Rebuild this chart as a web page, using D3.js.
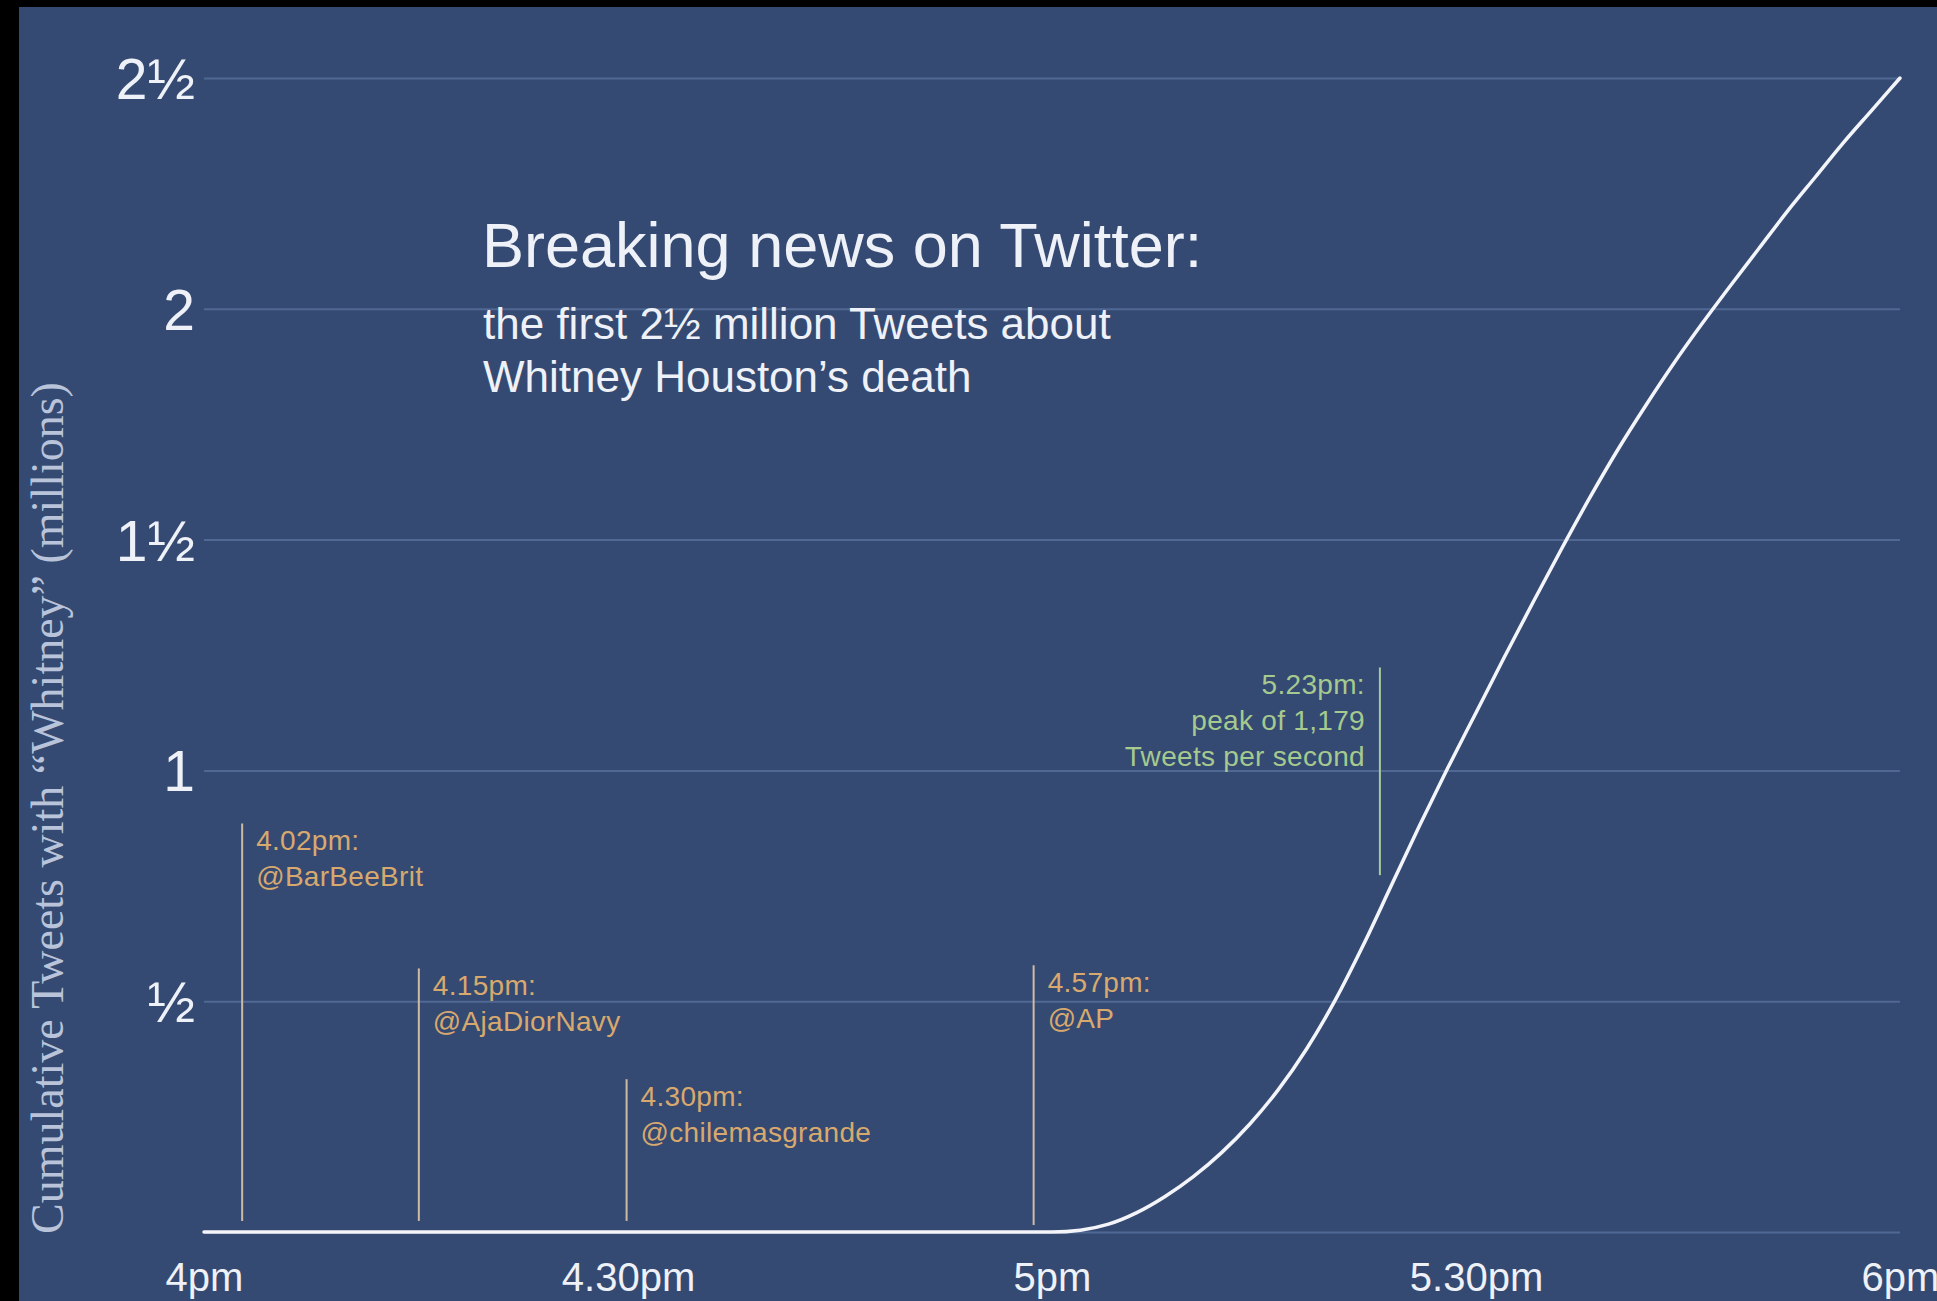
<!DOCTYPE html>
<html>
<head>
<meta charset="utf-8">
<script src="https://cdn.jsdelivr.net/npm/d3@7"></script>
<style>
  html, body { margin: 0; padding: 0; background: #000; }
  svg { display: block; }
</style>
</head>
<body>
<div id="chart"></div>
<script>
// data ---------------------------------------------------------------------------------
// minutes after 4pm and cumulative tweets (millions)
const minutes = [0, 60, 62, 64, 66, 68, 70, 72, 74, 76, 78, 80, 82, 84, 86, 88, 90, 92, 94, 96, 98, 100,
    102, 104, 106, 108, 110, 112, 114, 116, 118, 120];
const tweets = [0, 0, 0.004, 0.017, 0.042, 0.077, 0.12, 0.172, 0.234, 0.308, 0.396, 0.5, 0.62, 0.75, 0.88,
    1.005, 1.125, 1.245, 1.362, 1.477, 1.588, 1.693, 1.79, 1.882, 1.968, 2.05, 2.13, 2.21, 2.285, 2.36, 2.43, 2.5];

const xTicks = [0, 30, 60, 90, 120];
const xTickLabels = ["4pm", "4.30pm", "5pm", "5.30pm", "6pm"];
const yTicks = [0, 0.5, 1, 1.5, 2, 2.5];
const yTickLabels = ["", "½", "1", "1½", "2", "2½"];

// annotations: time (min after 4pm), marker top / bottom (millions), text
const annoTimes = [2.7, 15.2, 29.9, 58.7, 83.2];
const annoTop = [0.885, 0.571, 0.331, 0.578, 1.223];
const annoBottom = [0.024, 0.024, 0.024, 0.015, 0.773];
const annoKind = ["tweet", "tweet", "tweet", "tweet", "peak"];
const annoText = [
    ["4.02pm:", "@BarBeeBrit"],
    ["4.15pm:", "@AjaDiorNavy"],
    ["4.30pm:", "@chilemasgrande"],
    ["4.57pm:", "@AP"],
    ["5.23pm:", "peak of 1,179", "Tweets per second"]
];

const titleText = "Breaking news on Twitter:";
const subtitleLines = ["the first 2½ million Tweets about", "Whitney Houston’s death"];
const yTitle = "Cumulative Tweets with “Whitney” (millions)";

// set up svg area -----------------------------------------------------------------------
const svgWidth = 1937;
const svgHeight = 1301;
const plot = { left: 204, right: 1900, top: 78, bottom: 1232 };

const sans = "'Liberation Sans', Arial, Helvetica, sans-serif";
const navy = "#354a72";
const gridColor = "#4f6894";
const orange = "#d8a96e";
const green = "#a5c98f";

const svg = d3.select("#chart").append("svg")
    .attr("width", svgWidth)
    .attr("height", svgHeight);

svg.append("rect")
    .attr("width", svgWidth)
    .attr("height", svgHeight)
    .attr("fill", "#000");

svg.append("rect")
    .attr("x", 19)
    .attr("y", 7)
    .attr("width", svgWidth - 19)
    .attr("height", svgHeight - 7)
    .attr("fill", navy);

// scales
const x = d3.scaleLinear()
    .domain([0, 120])
    .range([plot.left, plot.right]);

const y = d3.scaleLinear()
    .domain([0, 2.5])
    .range([plot.bottom, plot.top]);

// y axis with gridlines ------------------------------------------------------------------
const yAxis = d3.axisLeft(y)
    .tickValues(yTicks)
    .tickFormat((d, i) => yTickLabels[i])
    .tickSize(-(plot.right - plot.left))
    .tickPadding(9);

const yAxisG = svg.append("g")
    .attr("transform", `translate(${plot.left}, 0)`)
    .call(yAxis);

yAxisG.select(".domain").remove();
yAxisG.selectAll("line")
    .attr("stroke", gridColor)
    .attr("stroke-width", 2);
yAxisG.selectAll("text")
    .attr("fill", "#eef1f7")
    .attr("font-family", sans)
    .attr("font-size", 57)
    .attr("dy", "0.36em");

// x axis -----------------------------------------------------------------------------------
const xAxis = d3.axisBottom(x)
    .tickValues(xTicks)
    .tickFormat((d, i) => xTickLabels[i])
    .tickSize(0);

const xAxisG = svg.append("g")
    .attr("transform", `translate(0, ${plot.bottom})`)
    .call(xAxis);

xAxisG.select(".domain").remove();
xAxisG.selectAll("text")
    .attr("fill", "#eef1f7")
    .attr("font-family", sans)
    .attr("font-size", 40)
    .attr("y", 59)
    .attr("dy", 0);

// y axis title
svg.append("text")
    .attr("transform", "translate(63, 808) rotate(-90)")
    .attr("text-anchor", "middle")
    .attr("font-family", "'Liberation Serif', 'Times New Roman', serif")
    .attr("font-size", 46)
    .attr("fill", "#b9c4da")
    .text(yTitle);

// title block -------------------------------------------------------------------------------
svg.append("text")
    .attr("x", 482)
    .attr("y", 267)
    .attr("font-family", sans)
    .attr("font-size", 63)
    .attr("fill", "#eef1f7")
    .text(titleText);

svg.append("g").selectAll("text")
    .data(subtitleLines)
    .enter()
    .append("text")
    .attr("x", 483)
    .attr("y", (d, i) => 339 + i * 53)
    .attr("font-family", sans)
    .attr("font-size", 44)
    .attr("fill", "#eef1f7")
    .text(d => d);

// annotations -------------------------------------------------------------------------------
const annoData = annoTimes.map((t, i) => ({
    t: t, top: annoTop[i], bottom: annoBottom[i], kind: annoKind[i], lines: annoText[i]
}));

const annoG = svg.append("g").selectAll("g")
    .data(annoData)
    .enter()
    .append("g");

annoG.append("line")
    .attr("x1", d => x(d.t))
    .attr("x2", d => x(d.t))
    .attr("y1", d => y(d.top))
    .attr("y2", d => y(d.bottom))
    .attr("stroke", d => d.kind === "peak" ? "#a9c99c" : "#cdbba4")
    .attr("stroke-width", 2);

annoG.each(function(d) {
    const peak = d.kind === "peak";
    d3.select(this).selectAll("text")
        .data(d.lines)
        .enter()
        .append("text")
        .attr("x", peak ? x(d.t) - 15 : x(d.t) + 14)
        .attr("y", (s, i) => y(d.top) + 27 + i * 36)
        .attr("text-anchor", peak ? "end" : "start")
        .attr("font-family", sans)
        .attr("font-size", 28)
        .attr("letter-spacing", 0.3)
        .attr("fill", peak ? green : orange)
        .text(s => s);
});

// cumulative curve ----------------------------------------------------------------------------
const curveData = minutes.map((m, i) => ({ m: m, v: tweets[i] }));

const line = d3.line()
    .x(d => x(d.m))
    .y(d => y(d.v))
    .curve(d3.curveMonotoneX);

svg.append("path")
    .datum(curveData)
    .attr("d", line)
    .attr("fill", "none")
    .attr("stroke", "#f3f5fa")
    .attr("stroke-width", 3.5)
    .attr("stroke-linecap", "round");
</script>
</body>
</html>
